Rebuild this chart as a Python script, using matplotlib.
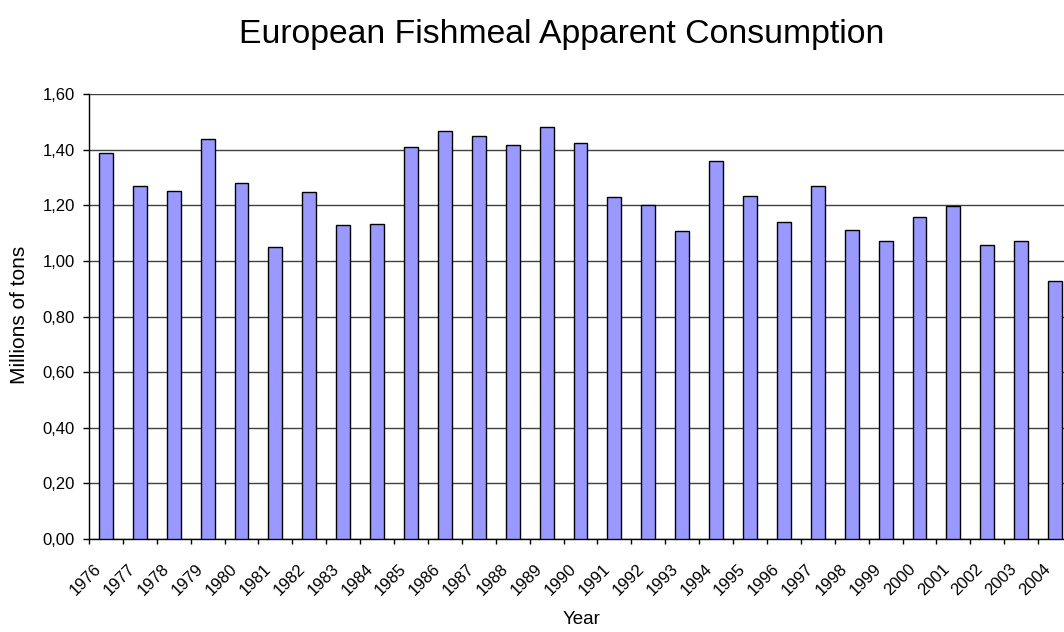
import matplotlib
matplotlib.use('Agg')
import matplotlib.pyplot as plt
from matplotlib.ticker import FixedLocator, FuncFormatter
from matplotlib.transforms import ScaledTranslation

plt.rcParams['font.family'] = ['Liberation Sans', 'DejaVu Sans']

years = [str(y) for y in range(1976, 2005)]
consumption = [1.388, 1.271, 1.253, 1.440, 1.282, 1.051, 1.248, 1.129, 1.133,
               1.410, 1.470, 1.452, 1.417, 1.482, 1.426, 1.230, 1.203, 1.107,
               1.360, 1.233, 1.141, 1.269, 1.111, 1.073, 1.159, 1.198, 1.057,
               1.072, 0.927]
y_ticks = [0.0, 0.2, 0.4, 0.6, 0.8, 1.0, 1.2, 1.4, 1.6]

fig = plt.figure(figsize=(10.64, 6.32), dpi=100)
# plot area runs a bit past the right edge, like the original
ax = fig.add_axes([0.0836, 0.1476, 0.924, 0.703])

x = list(range(len(years)))
ax.bar(x, consumption, width=0.41, color='#9999FF', edgecolor='black',
       linewidth=1.0, zorder=3)

ax.set_xlim(-0.5, len(years) - 0.5)
ax.set_ylim(0, 1.6)
ax.set_yticks(y_ticks)
ax.yaxis.set_major_formatter(FuncFormatter(lambda v, p: f'{v:.2f}'.replace('.', ',')))
ax.grid(axis='y', color='#404040', linewidth=1.0, zorder=0)

# ticks at category boundaries, labels at category centres
ax.xaxis.set_major_locator(FixedLocator([i - 0.5 for i in range(len(years) + 1)]))
ax.xaxis.set_major_formatter(FuncFormatter(lambda v, p: ''))
ax.set_xticks(x, minor=True)
ax.set_xticklabels(years, minor=True, rotation=45, ha='right',
                   rotation_mode='anchor', fontsize=12)
ax.tick_params(axis='x', which='major', length=3.5, width=1, direction='out')
ax.tick_params(axis='x', which='minor', length=0, pad=16)
ax.tick_params(axis='y', length=4.3, width=1, labelsize=12, pad=6)

# nudge the year labels left, as in the original
shift = ScaledTranslation(-12 / 100, 0, fig.dpi_scale_trans)
for lbl in ax.get_xticklabels(minor=True):
    lbl.set_transform(lbl.get_transform() + shift)

for s in ['top', 'right']:
    ax.spines[s].set_visible(False)
ax.spines['left'].set_linewidth(1.0)
ax.spines['bottom'].set_linewidth(1.0)

fig.text(20 / 1064, 1 - 315 / 632, 'Millions of tons', rotation=90,
         ha='center', va='center', fontsize=15)
fig.text(582 / 1064, 1 - 620 / 632, 'Year', ha='center', va='center', fontsize=13.5)
fig.text(0.528, 0.945, 'European Fishmeal Apparent Consumption',
         ha='center', va='center', fontsize=24.3)

fig.savefig('out.png', dpi=100)
